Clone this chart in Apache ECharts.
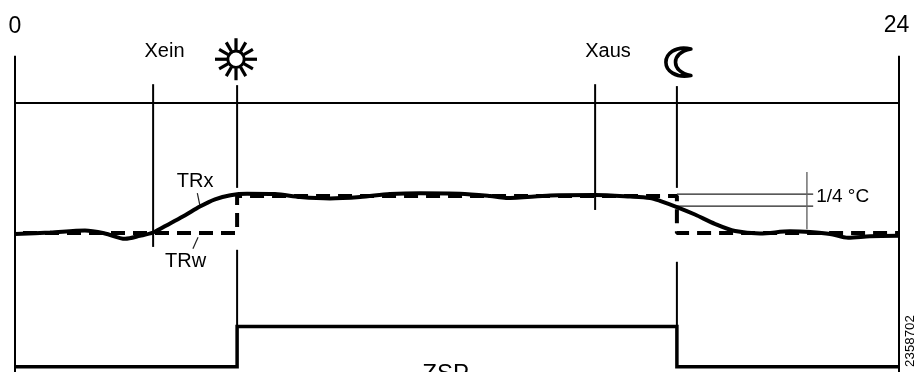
<!DOCTYPE html>
<html><head><meta charset="utf-8">
<style>html,body{margin:0;padding:0;background:#fff}#c{width:914px;height:372px}</style>
<script src="https://cdn.jsdelivr.net/npm/echarts@6/dist/echarts.min.js"></script>
</head><body><div id="c"></div>
<script>
// hours of the day, temperature offset in °C relative to the reduced setpoint
var trxHours = [0,0.95,1.90,2.44,2.99,3.39,3.75,4.21,4.62,5.02,5.43,5.85,6.3,7.06,7.74,8.55,9.37,10.18,11.0,12.08,12.9,13.33,14.53,15.75,16.70,17.24,17.51,17.97,18.46,19.0,19.55,20.23,21.04,21.59,22.13,22.62,23.21,24];
var trxValues = [-0.02,0.01,0.05,-0.01,-0.12,-0.06,0.01,0.20,0.37,0.55,0.70,0.785,0.815,0.81,0.75,0.72,0.75,0.81,0.83,0.82,0.77,0.73,0.78,0.79,0.76,0.73,0.67,0.54,0.385,0.19,0.04,-0.01,0.035,0.02,-0.02,-0.10,-0.07,-0.06];
var trwHours = [0,6.03,6.03,17.97,17.97,24];
var trwValues = [0,0,0.77,0.77,0,0];
var zspHours = [0,6.03,6.03,17.97,17.97,24];
var zspValues = [-2.785,-2.785,-1.95,-1.95,-2.785,-2.785];
var sunHour = 6.0, moonHour = 17.97;
var xeinHour = 3.75, xausHour = 15.75;
var labelTexts = ['Xein','Xaus','TRx','TRw'];
var labelHours = [4.06,16.1,4.89,4.63];
var labelValues = [3.79,3.79,1.08,-0.6];

var FONT = '"Liberation Sans", Arial, sans-serif';
function seg(name,x1,y1,x2,y2,w,col){
  return {type:'line',name:name,data:[[x1,y1],[x2,y2]],symbol:'none',silent:true,clip:false,animation:false,
    lineStyle:{color:col||'#000',width:w,cap:'butt'}};
}
function text(t,h,v,size,extra){
  return {value:[h,v],label:Object.assign({show:true,position:'inside',formatter:t,fontSize:size,color:'#000',fontFamily:FONT,align:'center',verticalAlign:'middle'},extra||{})};
}
var labels = labelTexts.map(function(t,i){return text(t,labelHours[i],labelValues[i],20);});
labels.push(text('1/4 °C',22.47,0.75,19));
labels.push(text('0',0,4.29,23));
labels.push(text('24',23.93,4.31,23));
labels.push(text('ZSP',11.69,-2.94,24));
labels.push(text('2358702',24.3,-2.79,13.3,{rotate:90,align:'left'}));

var sunRays = [0,1,2,3,4,5,6,7,8,9,10,11];
var option = {
  animation:false,
  grid:{left:15,right:15,top:0,bottom:0,containLabel:false},
  xAxis:{type:'value',min:0,max:24,show:false},
  yAxis:{type:'value',min:-2.896,max:4.854,show:false},
  series:[
    seg('axis0',0,3.69,0,-2.9,2),
    seg('axis24',24,3.69,24,-2.9,2),
    seg('top',0,2.71,24,2.71,2),
    seg('xein',xeinHour,3.10,xeinHour,-0.29,2),
    seg('sun1',6.03,3.08,6.03,0.94,2),
    seg('sun2',6.03,-0.35,6.03,-1.94,2),
    seg('xaus',xausHour,3.10,xausHour,0.48,2),
    seg('moon1',17.97,3.06,17.97,0.94,2),
    seg('moon2',17.97,-0.60,17.97,-1.94,2),
    seg('d1',17.97,0.81,21.67,0.81,1.3,'#222'),
    seg('d2',17.97,0.56,21.67,0.56,1.3,'#222'),
    seg('d3',21.50,1.27,21.50,0.08,1.4,'#666'),
    seg('trxLead',4.95,0.83,5.03,0.54,1.2,'#222'),
    seg('trwLead',4.97,-0.09,4.83,-0.33,1.2,'#222'),
    {type:'line',name:'TRw',data:trwHours.map(function(h,i){return [h,trwValues[i]];}),symbol:'none',clip:false,
      lineStyle:{color:'#000',width:4,type:[14,8],dashOffset:14,cap:'butt'}},
    {type:'line',name:'TRx',data:trxHours.map(function(h,i){return [h,trxValues[i]];}),symbol:'none',smooth:0.3,clip:false,
      lineStyle:{color:'#000',width:4}},
    {type:'line',name:'ZSP',data:zspHours.map(function(h,i){return [h,zspValues[i]];}),symbol:'none',clip:false,
      lineStyle:{color:'#000',width:3.5,join:'miter'}},
    {type:'custom',name:'icons',clip:false,silent:true,
      data:[[sunHour,3.62,0],[moonHour,3.56,1]],
      renderItem:function(p,api){
        var c=api.coord([api.value(0),api.value(1)]);
        if(api.value(2)===1){
          return {type:'path',x:c[0],y:c[1],
            shape:{pathData:'M14,-14 C-3,-18 -12,-8 -12,0 C-12,9 -2,17 14,14 C3,12 -2,6 -2,0 C-2,-6 3,-12 14,-14 Z',width:25,height:28,layout:'cover',x:-11,y:-14},
            style:{fill:'#fff',stroke:'#000',lineWidth:3.6,lineJoin:'round'}};
        }
        var children=[{type:'circle',shape:{cx:0,cy:0,r:8.2},style:{fill:'#fff',stroke:'#000',lineWidth:3}}];
        sunRays.forEach(function(k){
          var a=k*Math.PI/6, long=(k%3===0)?21:19.5;
          children.push({type:'line',shape:{x1:9*Math.cos(a),y1:9*Math.sin(a),x2:long*Math.cos(a),y2:long*Math.sin(a)},style:{stroke:'#000',lineWidth:3.2}});
        });
        return {type:'group',x:c[0],y:c[1],children:children};
      }},
    {type:'scatter',name:'labels',symbolSize:1,itemStyle:{color:'rgba(0,0,0,0)',opacity:1},clip:false,silent:true,data:labels}
  ]
};
echarts.init(document.getElementById('c'),null,{renderer:'canvas'}).setOption(option);
</script></body></html>
